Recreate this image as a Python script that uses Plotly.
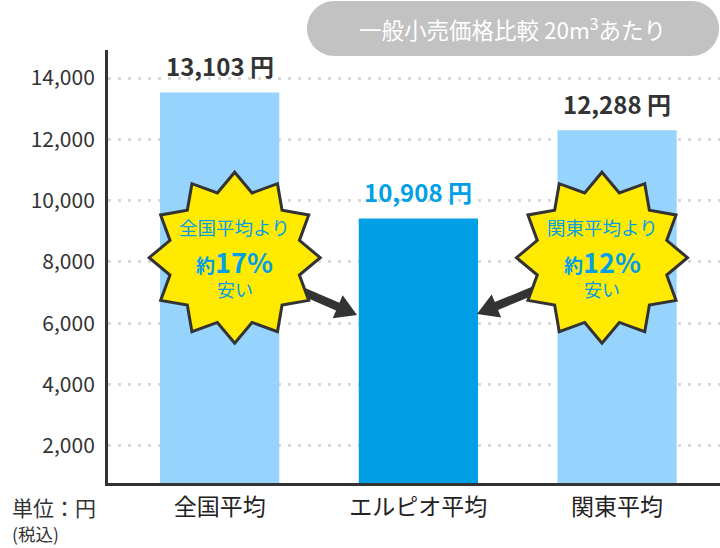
import math
import plotly.graph_objects as go

# ---- data ----
categories = ["全国平均", "エルピオ平均", "関東平均"]
bar_heights = [13530, 9420, 12300]          # drawn bar heights
price_labels = ["13,103 円", "10,908 円", "12,288 円"]
bar_colors = ["#97d4fd", "#009fe6", "#97d4fd"]
label_colors = ["#333333", "#009fe6", "#333333"]
y_ticks = [2000, 4000, 6000, 8000, 10000, 12000, 14000]
title_text = "一般小売価格比較 20m<sup>3</sup>あたり"
star_texts = [("全国平均より", "17%"), ("関東平均より", "12%")]

W, H = 720, 548
L, R, T, B = 108, 0, 50, 65
PW, PH = W - L - R, H - T - B
FONT = "Noto Sans CJK JP"
BLUE = "#009fe6"
DARK = "#333333"


def px(x):
    return (x - L) / PW


def py(y):
    return (H - B - y) / PH


def path_from(points):
    s = "M " + " L ".join(f"{px(x):.5f},{py(y):.5f}" for x, y in points) + " Z"
    return s


def star(cx, cy, ro, ri, n=12):
    pts = []
    for i in range(2 * n):
        a = -math.pi / 2 + i * math.pi / n
        r = ro if i % 2 == 0 else ri
        pts.append((cx + r * math.cos(a), cy + r * math.sin(a)))
    return pts


def arrow(tail, tip, shaft=4.2, head=12.5, head_len=21):
    dx, dy = tip[0] - tail[0], tip[1] - tail[1]
    d = math.hypot(dx, dy)
    ux, uy = dx / d, dy / d
    nx, ny = -uy, ux
    neck = (tip[0] - ux * head_len, tip[1] - uy * head_len)
    return [
        (tail[0] + nx * shaft, tail[1] + ny * shaft),
        (neck[0] + nx * shaft, neck[1] + ny * shaft),
        (neck[0] + nx * head, neck[1] + ny * head),
        tip,
        (neck[0] - nx * head, neck[1] - ny * head),
        (neck[0] - nx * shaft, neck[1] - ny * shaft),
        (tail[0] - nx * shaft, tail[1] - ny * shaft),
    ]


def pill(x0, y0, x1, y1):
    r = (y1 - y0) / 2
    pts = []
    cxr, cxl, cy = x1 - r, x0 + r, (y0 + y1) / 2
    for i in range(31):
        a = -math.pi / 2 + math.pi * i / 30
        pts.append((cxr + r * math.cos(a), cy + r * math.sin(a)))
    for i in range(31):
        a = math.pi / 2 + math.pi * i / 30
        pts.append((cxl + r * math.cos(a), cy + r * math.sin(a)))
    return pts


def ann(x, y, text, size, color, xanchor="center"):
    return dict(x=px(x), y=py(y), xref="paper", yref="paper", text=text, showarrow=False,
                xanchor=xanchor, yanchor="middle",
                font=dict(family=FONT, size=size, color=color))


fig = go.Figure()
fig.add_trace(go.Bar(
    x=categories, y=bar_heights, width=0.6,
    marker=dict(color=bar_colors, line=dict(width=0)),
    hoverinfo="skip", showlegend=False,
))

shapes = []
# title pill
shapes.append(dict(type="path", xref="paper", yref="paper", path=path_from(pill(307, 1, 719, 56)),
                   fillcolor="#c2c2c2", line=dict(width=0), layer="above"))
# arrows
shapes.append(dict(type="path", xref="paper", yref="paper",
                   path=path_from(arrow((290, 286), (357, 315))),
                   fillcolor=DARK, line=dict(width=0), layer="above"))
shapes.append(dict(type="path", xref="paper", yref="paper",
                   path=path_from(arrow((545, 286), (477, 314))),
                   fillcolor=DARK, line=dict(width=0), layer="above"))
# stars
for cx in (234.7, 602):
    shapes.append(dict(type="path", xref="paper", yref="paper",
                       path=path_from(star(cx, 257.7, 85.5, 67)),
                       fillcolor="#ffea00", line=dict(color=DARK, width=3), layer="above"))

annotations = []
# value labels
for cat, h, lab, col in zip(categories, bar_heights, price_labels, label_colors):
    annotations.append(dict(x=cat, y=h, xref="x", yref="y", text=f"<b>{lab}</b>",
                            showarrow=False, xanchor="center", yanchor="bottom", yshift=7,
                            font=dict(family=FONT, size=24, color=col)))
# title
annotations.append(ann(512, 29, title_text, 22.5, "#ffffff"))
# star texts
for cx, (line1, pct) in zip((234.7, 602), star_texts):
    annotations.append(ann(cx, 227, line1, 18.5, BLUE))
    annotations.append(ann(cx, 261, f"<b>約<span style='font-size:27px'>{pct}</span></b>", 19, BLUE))
    annotations.append(ann(cx, 289, "安い", 18, BLUE))
# unit
annotations.append(ann(10, 507, "単位：円", 21, DARK, xanchor="left"))
annotations.append(ann(10, 533, "(税込)", 17.5, DARK, xanchor="left"))

fig.update_layout(
    width=W, height=H,
    margin=dict(l=L, r=R, t=T, b=B, pad=0, autoexpand=False),
    paper_bgcolor="white", plot_bgcolor="white",
    shapes=shapes, annotations=annotations,
    xaxis=dict(range=[-0.562, 2.518], showline=True, linecolor=DARK, linewidth=3,
               showgrid=False, ticks="", ticklabelstandoff=1, automargin=False,
               tickfont=dict(family=FONT, size=23, color="#222222"), fixedrange=True),
    yaxis=dict(range=[793, 14913], tickvals=y_ticks, tickformat=",", showline=True,
               linecolor=DARK, linewidth=3, showgrid=True, gridcolor="#d9d9d9", gridwidth=3,
               griddash="3px,7px", zeroline=False, ticks="", ticklabelstandoff=6,
               automargin=False,
               tickfont=dict(family=FONT, size=21, color=DARK), fixedrange=True),
    showlegend=False,
)

fig.write_html(
    "out.html",
    config={"displayModeBar": False},
    post_script="document.body.style.margin='0';document.body.style.padding='0';"
                "document.body.style.overflow='hidden';",
)
